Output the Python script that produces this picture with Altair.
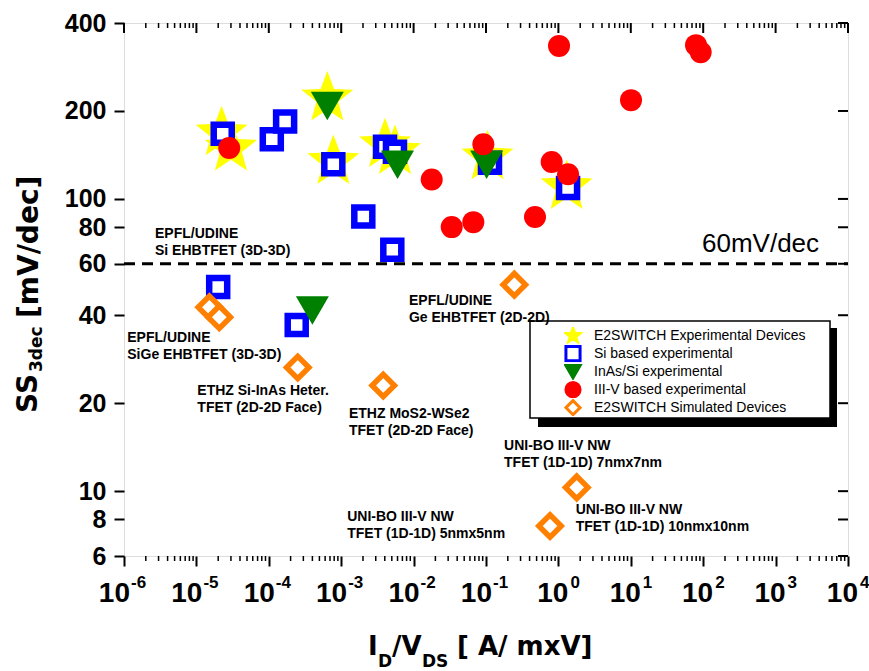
import math
import altair as alt
import pandas as pd

# ---------------- data ----------------
series = [
    "E2SWITCH Experimental Devices",
    "Si based experimental",
    "InAs/Si experimental",
    "III-V based experimental",
    "E2SWITCH Simulated Devices",
]

star_x = [2.23e-5, 3.0e-5, 6.43e-4, 7.78e-4, 4.03e-3, 5.53e-3, 0.105, 1.30]
star_y = [168, 149, 221, 134, 153, 145, 139, 110]

si_x = [2.31e-5, 1.10e-4, 1.68e-4, 7.78e-4, 4.03e-3, 5.53e-3, 0.1135, 1.36, 2.02e-3, 5.08e-3, 2.0e-5, 2.43e-4]
si_y = [167, 160, 184, 131.5, 151, 145, 133, 109, 87, 67, 50, 37]

inas_x = [6.43e-4, 6.0e-3, 0.102, 4.0e-4]
inas_y = [208, 131, 131, 41.5]

iii_x = [2.84e-5, 0.0178, 0.0336, 0.0668, 0.475, 1.02, 79.6, 92.3, 10.07, 0.807, 1.36, 0.0919]
iii_y = [149.4, 116.5, 80.1, 83.3, 86.7, 334, 336, 317.5, 217.8, 133.8, 121.4, 153.9]

sim_x = [1.51e-5, 2.07e-5, 2.51e-4, 3.81e-3, 0.246, 1.79, 0.766]
sim_y = [42.6, 39.4, 26.5, 23.0, 50.9, 10.3, 7.6]

x_ticks = [1e-6, 1e-5, 1e-4, 1e-3, 1e-2, 1e-1, 1e0, 1e1, 1e2, 1e3, 1e4]
x_tick_base = ["10"] * 11
x_tick_exp = ["-6", "-5", "-4", "-3", "-2", "-1", "0", "1", "2", "3", "4"]
y_ticks = [6, 8, 10, 20, 40, 60, 80, 100, 200, 400]
x_minor = [k * 10.0 ** d for d in range(-6, 4) for k in range(2, 10)]

ref_line = [60]
ref_label = ["60mV/dec"]
ref_label_x = [96.2]
ref_label_y = [65.6]

ann_text = [
    "EPFL/UDINE\nSi EHBTFET (3D-3D)",
    "EPFL/UDINE\nSiGe EHBTFET (3D-3D)",
    "ETHZ Si-InAs Heter.\nTFET (2D-2D Face)",
    "ETHZ  MoS2-WSe2\nTFET (2D-2D Face)",
    "EPFL/UDINE\nGe EHBTFET (2D-2D)",
    "UNI-BO III-V NW\nTFET (1D-1D) 7nmx7nm",
    "UNI-BO III-V NW\nTFET (1D-1D) 5nmx5nm",
    "UNI-BO III-V NW\nTFET (1D-1D) 10nmx10nm",
]
ann_x = [2.68e-6, 1.11e-6, 1.03e-5, 1.28e-3, 8.63e-3, 0.1775, 1.21e-3, 1.73]
ann_y = [73.3, 32.3, 21.4, 17.84, 43.2, 13.8, 7.91, 8.34]

# ---------------- layout / style ----------------
W, H = 724, 533
OX, OY = 124, 23
BOLD = "DejaVu Sans"
ARIAL = "Liberation Sans"


def star_path(ri=0.42):
    pts = []
    for k in range(10):
        a = math.radians(-90 + 36 * k)
        r = 1.0 if k % 2 == 0 else ri
        pts.append(f"{r * math.cos(a):.4f},{r * math.sin(a):.4f}")
    return "M" + "L".join(pts) + "Z"


shapes = [star_path(), "square", "triangle-down", "circle", "diamond"]
fills = ["#FFFF00", "#FFFFFF", "#008000", "#FF0000", "#FFFFFF"]
strokes = ["#FFFF00", "#0000FF", "#008000", "#FF0000", "#FF8000"]
mark_sizes = [2990, 324, 1089, 484, 500]
mark_widths = [0, 6.5, 0, 0, 5.5]

xs = alt.Scale(type="log", domain=[1e-6, 1e4], nice=False)
ys = alt.Scale(type="log", domain=[6, 400], nice=False)

x_axis = alt.Axis(values=x_ticks, labels=False, tickSize=10, tickWidth=2, tickColor="black",
                  domain=False, grid=False, title=None)
y_axis = alt.Axis(values=y_ticks, format="d", tickSize=10, tickWidth=2, tickColor="black",
                  labelFont=ARIAL, labelFontSize=25, labelFontWeight="bold",
                  labelColor="black", labelPadding=8, domain=False, grid=False, title=None,
                  labelOverlap=False)

X = alt.X("x:Q", scale=xs, axis=x_axis)
Y = alt.Y("y:Q", scale=ys, axis=y_axis)

leg = alt.Legend(title=None, orient="none", legendX=440, legendY=304, symbolSize=200,
                 symbolStrokeWidth=3, labelFont=ARIAL, labelFontSize=14,
                 labelColor="black", labelOffset=12, rowPadding=0, padding=0,
                 clipHeight=17.3, labelLimit=400)

frames = []
for s, xv, yv in zip(series, [star_x, si_x, inas_x, iii_x, sim_x], [star_y, si_y, inas_y, iii_y, sim_y]):
    frames.append(pd.DataFrame({"x": xv, "y": yv, "series": s}))
pts = pd.concat(frames, ignore_index=True)

shape_enc = alt.Shape("series:N", scale=alt.Scale(domain=series, range=shapes), legend=leg)
fill_enc = alt.Fill("series:N", scale=alt.Scale(domain=series, range=fills), legend=leg)
stroke_enc = alt.Stroke("series:N", scale=alt.Scale(domain=series, range=strokes), legend=leg)

point_layers = []
for s, sz, sw in zip(series, mark_sizes, mark_widths):
    point_layers.append(
        alt.Chart(pts).transform_filter(alt.datum.series == s)
        .mark_point(filled=True, opacity=1, size=sz, strokeWidth=sw)
        .encode(x=X, y=Y, shape=shape_enc, fill=fill_enc, stroke=stroke_enc)
    )

one = pd.DataFrame({"a": [0]})

rule60 = alt.Chart(pd.DataFrame({"y": ref_line})).mark_rule(
    color="black", strokeWidth=3, strokeDash=[11, 7]
).encode(y=Y, x=alt.value(0), x2=alt.value(W))

label60 = alt.Chart(pd.DataFrame({"x": ref_label_x, "y": ref_label_y, "t": ref_label})).mark_text(
    align="left", baseline="alphabetic", font=ARIAL, fontSize=26, color="black"
).encode(x=X, y=Y, text="t:N")

shadow = alt.Chart(one).mark_rect(color="black").encode(
    x=alt.value(530 + 8 - OX), x2=alt.value(830 + 7 - OX),
    y=alt.value(321 + 7 - OY), y2=alt.value(418 + 9 - OY))
box = alt.Chart(one).mark_rect(fill="white", stroke="black", strokeWidth=1.5).encode(
    x=alt.value(530 - OX), x2=alt.value(830 - OX),
    y=alt.value(321 - OY), y2=alt.value(418 - OY))

ann = alt.Chart(pd.DataFrame({"x": ann_x, "y": ann_y, "t": ann_text})).mark_text(
    align="left", baseline="alphabetic", lineBreak="\n", lineHeight=17,
    font=ARIAL, fontWeight="bold", fontSize=14, color="black"
).encode(x=X, y=Y, text="t:N")

# tick marks drawn through the scales (minor / mirrored ticks)
xmin_df = pd.DataFrame({"x": x_minor})
xmaj_df = pd.DataFrame({"x": x_ticks})
ytk_df = pd.DataFrame({"y": y_ticks})
bot_minor = alt.Chart(xmin_df).mark_rule(color="black", strokeWidth=1.5).encode(
    x=X, y=alt.value(H), y2=alt.value(H + 5))
top_minor = alt.Chart(xmin_df).mark_rule(color="black", strokeWidth=1.5).encode(
    x=X, y=alt.value(0), y2=alt.value(5))
top_major = alt.Chart(xmaj_df).mark_rule(color="black", strokeWidth=2).encode(
    x=X, y=alt.value(0), y2=alt.value(10))
right_major = alt.Chart(ytk_df).mark_rule(color="black", strokeWidth=2).encode(
    y=Y, x=alt.value(W - 10), x2=alt.value(W))

# x tick labels: "10" with a raised exponent
xlab_df = pd.DataFrame({"x": x_ticks, "b": x_tick_base, "e": x_tick_exp})
neg = alt.datum.e[0] == "-"
xlab_layers = []
for cond, dxb, dxe in [(neg, 6, 7), (~neg, 10, 12)]:
    xlab_layers.append(
        alt.Chart(xlab_df).transform_filter(cond).mark_text(
            align="right", baseline="alphabetic", font=ARIAL, fontWeight="bold",
            fontSize=28, color="black", dx=dxb
        ).encode(x=X, y=alt.value(602 - OY), text="b:N"))
    xlab_layers.append(
        alt.Chart(xlab_df).transform_filter(cond).mark_text(
            align="left", baseline="alphabetic", font=ARIAL, fontWeight="bold",
            fontSize=17, color="black", dx=dxe
        ).encode(x=X, y=alt.value(588 - OY), text="e:N"))


def txt(t, x, y, size, angle=0):
    return alt.Chart(one).mark_text(
        text=t, align="left", baseline="alphabetic", font=BOLD, fontWeight="bold",
        fontSize=size, color="black", angle=angle
    ).encode(x=alt.value(x - OX), y=alt.value(y - OY))


# axis titles with subscripts
ytitle = [
    txt("SS", 37, 413, 28, 270),
    txt("3dec", 42, 372, 17, 270),
    txt("[mV/dec]", 38, 318, 28, 270),
]
xtitle = [
    txt("I", 368, 655, 26),
    txt("D", 378, 667, 17),
    txt("/V", 392, 655, 26),
    txt("DS", 422, 667, 17),
    txt("[ A/ mxV]", 457, 655, 26),
]

chart = alt.layer(
    rule60, shadow, box, *point_layers, label60, ann,
    bot_minor, top_minor, top_major, right_major, *xlab_layers, *ytitle, *xtitle
).properties(
    width=W, height=H,
    autosize=alt.AutoSizeParams(type="none"),
    padding={"left": OX, "top": OY, "right": 869 - OX - W, "bottom": 671 - OY - H},
).configure_view(
    stroke="black", strokeWidth=2.5
).configure(background="white")

chart.save("out.html", embed_options={"renderer": "svg", "actions": False})
